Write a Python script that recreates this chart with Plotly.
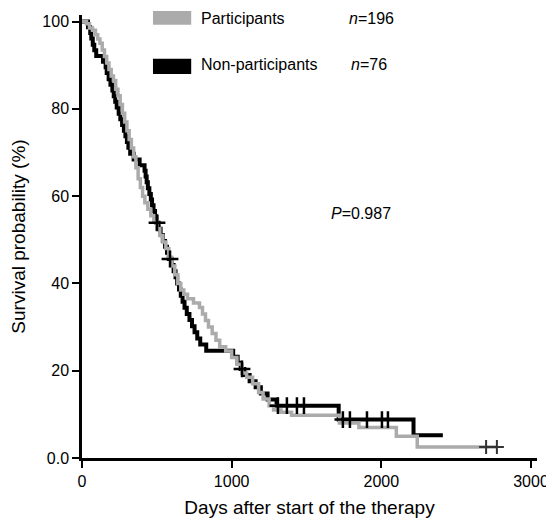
import plotly.graph_objects as go

# ---- data ----
# Non-participants (n=76): event times (days) and survival after each step (%)
np_time = [0, 40, 55, 62, 72, 82, 95, 140, 158, 165, 178, 190, 203, 212, 222, 232,
           245, 256, 268, 280, 290, 300, 310, 322, 345, 385, 418, 425, 432, 440,
           450, 460, 468, 478, 488, 498, 512, 525, 540, 555, 568, 580, 598, 612,
           625, 636, 648, 660, 672, 685, 700, 718, 735, 752, 770, 790, 830, 1010,
           1040, 1060, 1085, 1120, 1160, 1195, 1240, 1300, 1715, 2215, 2411]
np_surv = [100, 98.7, 97.4, 96.1, 94.7, 93.4, 92.1, 90.8, 89.5, 88.2, 86.8, 85.5,
           84.2, 82.9, 81.6, 80.3, 78.9, 77.6, 76.3, 75.0, 73.7, 72.4, 71.1, 69.7,
           68.4, 67.1, 65.8, 64.5, 63.2, 61.8, 60.5, 59.2, 57.9, 56.6, 55.3, 53.9,
           52.5, 51.1, 49.7, 48.4, 47.0, 45.6, 44.2, 42.8, 41.4, 40.0, 38.6, 37.2,
           35.8, 34.4, 33.0, 31.6, 30.2, 28.8, 27.4, 26.0, 24.6, 23.2, 21.8, 20.4,
           19.0, 17.6, 16.2, 14.8, 13.4, 12.0, 8.8, 5.2, 5.2]
np_cens_time = [501, 588, 1069, 1309, 1369, 1436, 1483, 1743, 1790, 1904, 2004, 2044]
np_cens_surv = [53.9, 45.6, 20.4, 12.0, 12.0, 12.0, 12.0, 8.8, 8.8, 8.8, 8.8, 8.8]

# Participants (n=196)
p_time = [0, 30, 50, 70, 90, 105, 120, 135, 150, 165, 180, 195, 210, 225, 240, 255,
          270, 285, 300, 315, 330, 345, 360, 375, 390, 405, 420, 440, 460, 480,
          500, 520, 540, 560, 580, 600, 620, 640, 660, 680, 705, 745, 785, 805,
          825, 845, 870, 895, 920, 960, 1000, 1035, 1070, 1100, 1140, 1180, 1210,
          1250, 1280, 1330, 1400, 1720, 1850, 2100, 2240, 2772]
p_surv = [100, 99.5, 98.5, 98.0, 97.0, 96.0, 95.0, 93.5, 92.0, 90.5, 89.0, 87.5,
          86.5, 84.5, 83.0, 81.0, 79.0, 77.0, 75.0, 73.0, 71.0, 69.0, 66.5, 64.0,
          62.0, 60.0, 58.5, 57.0, 55.5, 54.0, 52.5, 51.0, 49.5, 48.0, 46.0, 44.0,
          42.0, 40.0, 38.5, 37.5, 36.5, 35.5, 34.5, 33.0, 31.5, 30.0, 28.5, 27.0,
          25.5, 24.5, 23.0, 21.5, 19.5, 18.5, 17.0, 15.0, 13.5, 12.0, 11.0, 10.5,
          9.8, 8.0, 7.0, 5.0, 2.5, 2.5]
p_cens_time = [2700, 2772]
p_cens_surv = [2.5, 2.5]

x_ticks = [0, 1000, 2000, 3000]
y_ticks = [0, 20, 40, 60, 80, 100]
y_ticktext = ["0.0", "20", "40", "60", "80", "100"]

FONT = "Liberation Sans, Arial, Helvetica, sans-serif"
GRAY = "#ababab"

fig = go.Figure()
fig.add_trace(go.Scatter(x=np_time, y=np_surv, mode="lines", line_shape="hv",
                         line=dict(color="black", width=4), showlegend=False))
fig.add_trace(go.Scatter(x=p_time, y=p_surv, mode="lines", line_shape="hv",
                         line=dict(color=GRAY, width=3.5), showlegend=False))
fig.add_trace(go.Scatter(x=np_cens_time, y=np_cens_surv, mode="markers",
                         marker=dict(symbol="cross-thin", size=12,
                                     line=dict(color="black", width=2.5)),
                         showlegend=False))
fig.add_trace(go.Scatter(x=p_cens_time, y=p_cens_surv, mode="markers",
                         marker=dict(symbol="cross-thin", size=10,
                                     line=dict(color="#333333", width=2)),
                         showlegend=False))

# manual legend
fig.add_shape(type="rect", xref="paper", yref="paper", x0=0.156, x1=0.240,
              y0=0.978, y1=1.009, fillcolor=GRAY, line=dict(width=0))
fig.add_shape(type="rect", xref="paper", yref="paper", x0=0.156, x1=0.240,
              y0=0.867, y1=0.901, fillcolor="black", line=dict(width=0))
ann = dict(xref="paper", yref="paper", showarrow=False, xanchor="left",
           yanchor="middle", font=dict(family=FONT, size=16, color="black"))
fig.add_annotation(x=0.257, y=0.993, text="Participants", **ann)
fig.add_annotation(x=0.583, y=0.993, text="<i>n</i>=196", **ann)
fig.add_annotation(x=0.257, y=0.888, text="Non-participants", **ann)
fig.add_annotation(x=0.586, y=0.888, text="<i>n</i>=76", **ann)
fig.add_annotation(x=0.543, y=0.553, text="<i>P</i>=0.987", **ann)

# the page body has an 8px margin, so the figure is sized/offset to compensate
fig.update_layout(
    width=546, height=513,
    margin=dict(l=74, r=17, t=5, b=63),
    paper_bgcolor="white", plot_bgcolor="white",
    font=dict(family=FONT, size=16, color="black"),
)
fig.update_xaxes(range=[0, 3040], tickvals=x_ticks, showline=True, linecolor="black",
                 linewidth=2.5, ticks="outside", ticklen=7, tickwidth=2,
                 tickcolor="black", showgrid=False, zeroline=False,
                 title=dict(text="Days after start of the therapy", standoff=12),
                 tickfont=dict(size=16))
fig.update_yaxes(range=[0, 101.5], tickvals=y_ticks, ticktext=y_ticktext,
                 showline=True, linecolor="black", linewidth=2.5, ticks="outside",
                 ticklen=7, tickwidth=2, tickcolor="black", showgrid=False,
                 zeroline=False, title=dict(text="Survival probability (%)", standoff=13),
                 tickfont=dict(size=16))

fig.write_html("out.html")
